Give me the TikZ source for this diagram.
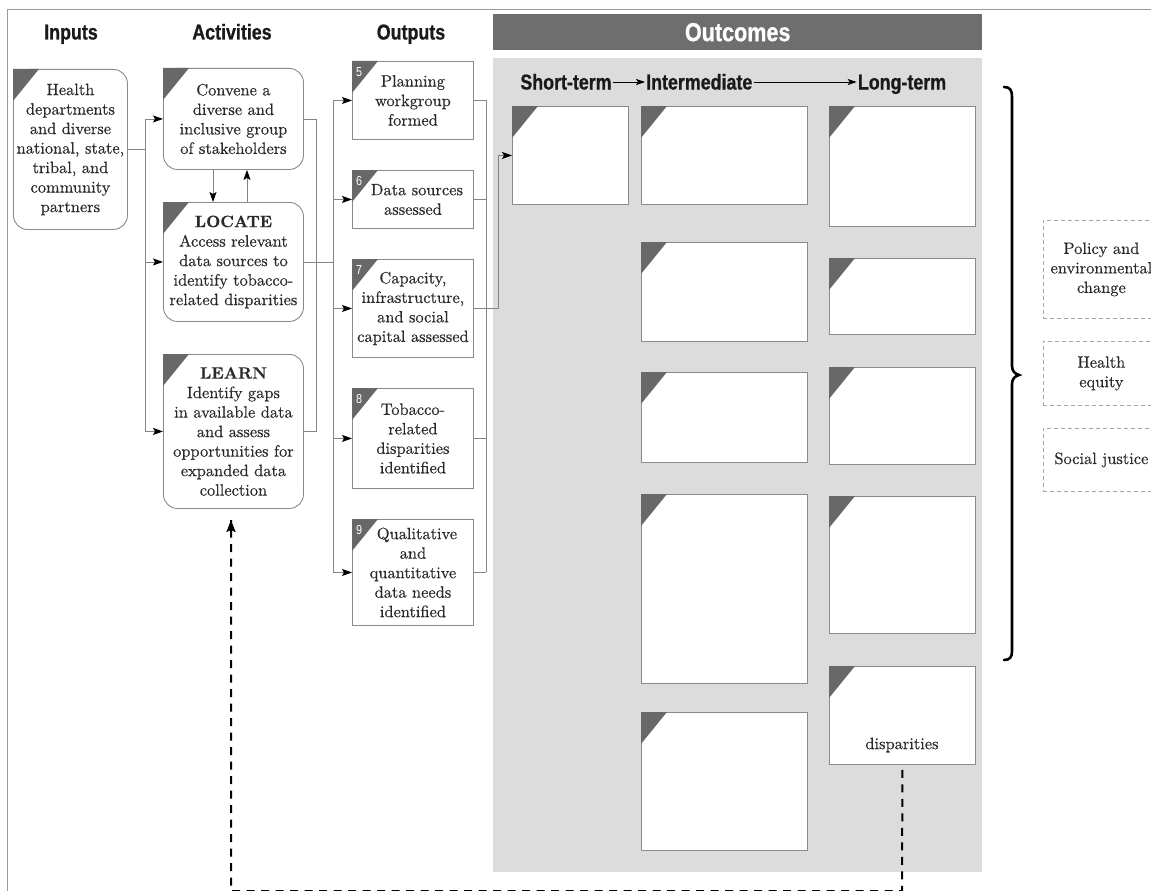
\documentclass[tikz,border=0pt]{standalone}
\usepackage{fontspec}
\newfontfamily\hdrfont{Liberation Sans}[FakeStretch=0.83, BoldFeatures={FakeBold=0.8}]
\newfontfamily\bodyrm{lmroman10}[Extension=.otf, UprightFont=*-regular, BoldFont=*-bold, FakeBold=0.4]
\usetikzlibrary{arrows.meta,calc}
\definecolor{boxline}{HTML}{8A8A8A}
\definecolor{conngray}{HTML}{858585}
\definecolor{trigray}{HTML}{686868}
\definecolor{bargray}{HTML}{6E6E6E}
\definecolor{panelgray}{HTML}{DCDCDC}
\definecolor{txt}{HTML}{2A2A2A}
\definecolor{hdr}{HTML}{1A1A1A}
\definecolor{framegray}{HTML}{9A9A9A}
\definecolor{dashgray}{HTML}{A5A5A5}
\newcommand\mybody{\bodyrm\fontsize{16.4}{19.5}\selectfont}
\newcommand\corner[1]{\fill[trigray] (#1.north west) -- ++(26,0) -- ++(-26,32) -- cycle;}
\begin{document}
\begin{tikzpicture}[x=1pt,y=-1pt,
  bx/.style={draw=boxline,line width=0.9pt,fill=white,inner sep=0pt,align=center,text=txt,font=\mybody,anchor=north west},
  rbx/.style={bx,rounded corners=14pt},
  obx/.style={bx},
  dbx/.style={bx,draw=dashgray,dash pattern=on 4pt off 3pt,line width=0.8pt,fill=none},
  sz/.style 2 args={minimum width=#1,minimum height=#2},
  conn/.style={draw=conngray,line width=0.9pt},
  arr/.style={conn,-{Stealth[length=10pt,width=7pt,inset=2pt,black]}},
  hdrtext/.style={font=\hdrfont\bfseries\fontsize{21.5}{24}\selectfont,text=hdr,inner sep=1pt},
  harr/.style={draw=black,line width=0.8pt,-{Stealth[length=9pt,width=6pt,inset=2pt]}},
  num/.style={text=white,font=\hdrfont\fontsize{13}{13}\selectfont,inner sep=0pt},
  fb/.style={draw=black,line width=2pt,dash pattern=on 8pt off 6.5pt},
  frame/.style={draw=framegray,line width=1.5pt}
]
\useasboundingbox (0,0) rectangle (1151,891);
\clip (0,0) rectangle (1151,891);

% frame
\draw[frame] (7.5,891) -- (7.5,9.5) -- (1151,9.5);

% column headers
\node[hdrtext,anchor=base] (hin) at (71,39.5) {Inputs};
\node[hdrtext,anchor=base] (hact) at (232,39.5) {Activities};
\node[hdrtext,anchor=base] (hout) at (411,39.5) {Outputs};

% outcomes bar and panel
\node[fill=bargray,anchor=north west,sz={489}{36},inner sep=0pt,text=white,font=\hdrfont\bfseries\fontsize{26}{28}\selectfont] (obar) at (493,14) {Outcomes};
\node[fill=panelgray,anchor=north west,sz={489}{814},inner sep=0pt] (panel) at (493,58) {};

\node[hdrtext,anchor=base] (st) at (566,89.5) {Short-term};
\node[hdrtext,anchor=base west] (it) at (645,89.5) {Intermediate};
\node[hdrtext,anchor=base] (lt) at (902,89.5) {Long-term};
\draw[harr] (st.east |- 0,82) -- (it.west |- 0,82);
\draw[harr] (it.east |- 0,82) -- (lt.west |- 0,82);

% input
\node[rbx,sz={114}{160}] (inp) at (13,69) {Health\\departments\\and diverse\\national, state,\\tribal, and\\community\\partners};
\corner{inp}

% activities
\node[rbx,sz={140}{101}] (conv) at (163,68) {Convene a\\diverse and\\inclusive group\\of stakeholders};
\corner{conv}
\node[rbx,sz={140}{119}] (loc) at (163,202) {\textbf{LOCATE}\\Access relevant\\data sources to\\identify tobacco-\\related disparities};
\corner{loc}
\node[rbx,sz={140}{154}] (learn) at (163,354) {\textbf{LEARN}\\Identify gaps\\in available data\\and assess\\opportunities for\\expanded data\\collection};
\corner{learn}

% outputs
\node[obx,sz={121}{78}] (o5) at (352,61) {Planning\\workgroup\\formed};
\node[obx,sz={121}{58}] (o6) at (352,170) {\hspace{8pt}Data sources\\assessed};
\node[obx,sz={121}{98}] (o7) at (352,259) {Capacity,\\infrastructure,\\and social\\capital assessed};
\node[obx,sz={121}{100}] (o8) at (352,388) {Tobacco-\\related\\disparities\\identified};
\node[obx,sz={121}{106}] (o9) at (352,519) {\hspace{8pt}Qualitative\\and\\quantitative\\data needs\\identified};
\foreach \b/\n in {o5/5,o6/6,o7/7,o8/8,o9/9}{
  \corner{\b}
  \node[num] (n\n) at ($(\b.north west)+(7,11)$) {\n};
}

% outcome boxes
\node[obx,sz={116}{98}] (s1) at (512,106) {};
\node[obx,sz={166}{98}] (i1) at (641,106) {};
\node[obx,sz={166}{99}] (i2) at (641,242) {};
\node[obx,sz={166}{90}] (i3) at (641,372) {};
\node[obx,sz={166}{189}] (i4) at (641,494) {};
\node[obx,sz={166}{138}] (i5) at (641,712) {};
\node[obx,sz={146}{120}] (l1) at (829,106) {};
\node[obx,sz={146}{76}] (l2) at (829,258) {};
\node[obx,sz={146}{97}] (l3) at (829,367) {};
\node[obx,sz={146}{137}] (l4) at (829,496) {};
\node[obx,sz={146}{98}] (l5) at (829,666) {};
\foreach \b in {s1,i1,i2,i3,i4,i5,l1,l2,l3,l4,l5}{\corner{\b}}
\node[text=txt,font=\mybody,inner sep=0pt] (l5t) at (902,745) {disparities};

% right brace
\draw[line width=2.6pt,black,line cap=round] (1004,87) .. controls (1010,87) and (1012,90) .. (1012,97) -- (1012,366) .. controls (1012,371) and (1015,374) .. (1019,375) .. controls (1015,376) and (1012,379) .. (1012,384) -- (1012,651) .. controls (1012,657) and (1010,660) .. (1004,660);

% dashed outcome boxes
\node[dbx,sz={116}{98}] (pol) at (1043,220) {Policy and\\environmental\\change};
\node[dbx,sz={116}{64}] (heq) at (1043,341) {Health\\equity};
\node[dbx,sz={116}{63}] (soc) at (1043,428) {Social justice};

% bus coordinates
\coordinate (busA) at (145,0);
\coordinate (busB) at (316,0);
\coordinate (busC) at (333,0);
\coordinate (busD) at (486,0);
\coordinate (busE) at (498,0);

% inputs -> activities
\draw[conn] (inp.east) -- (inp.east -| busA);
\draw[conn] (busA |- conv.west) -- (busA |- learn.west);
\draw[arr] (busA |- conv.west) -- (conv.west);
\draw[arr] (busA |- loc.west) -- (loc.west);
\draw[arr] (busA |- learn.west) -- (learn.west);

% convene <-> locate
\draw[arr] (conv.south -| 213,0) -- (loc.north -| 213,0);
\draw[arr] (loc.north -| 247,0) -- (conv.south -| 247,0);

% activities -> outputs
\draw[conn] (conv.east) -- (busB |- conv.east) -- (busB |- learn.east) -- (learn.east);
\draw[conn] (loc.east) -- (busC |- loc.east);
\draw[conn] (busC |- o5.west) -- (busC |- o9.west);
\foreach \b in {o5,o6,o7,o8,o9}{\draw[arr] (busC |- \b.west) -- (\b.west);}

% outputs -> outcomes
\foreach \b in {o5,o6,o8,o9}{\draw[conn] (\b.east) -- (busD |- \b.east);}
\draw[conn] (busD |- o5.east) -- (busD |- o9.east);
\draw[conn] (o7.east) -- (busE |- o7.east) -- (busE |- s1.west);
\draw[arr] (busE |- s1.west) -- (s1.west);

% feedback loop
\coordinate (fbA) at (902,891);
\coordinate (fbB) at (231,891);
\coordinate (fbC) at (231,520);
\draw[fb] ($(l5.south)+(0,5)$) -- (fbA) -- (fbB) -- (fbC);
\draw[-{Stealth[length=12pt,width=9pt,inset=2pt]},black,line width=2pt] (231,530) -- (fbC);
\end{tikzpicture}
\end{document}
